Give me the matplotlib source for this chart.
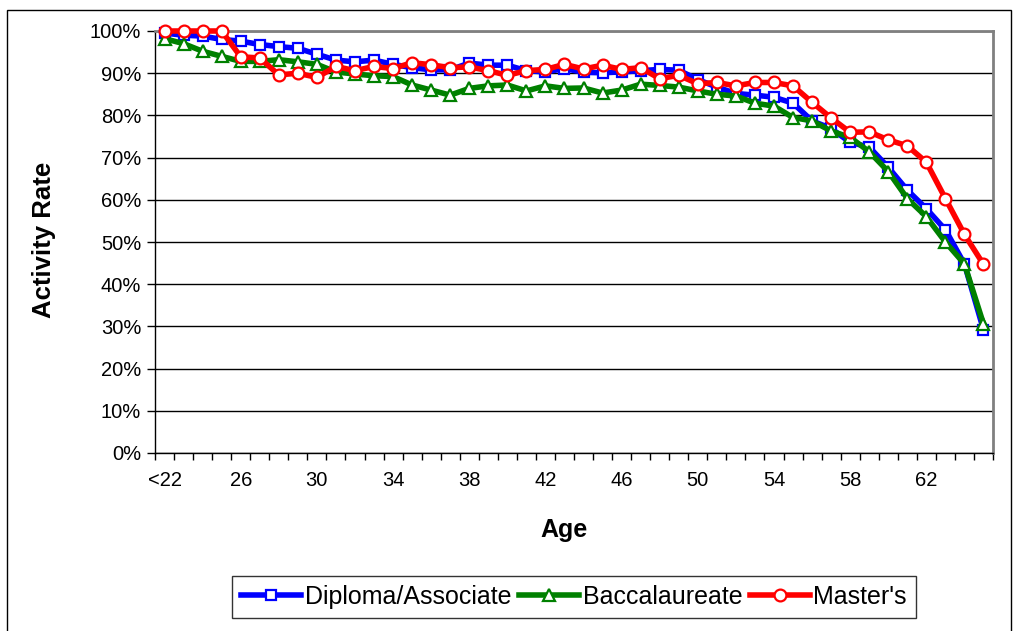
import numpy as np
import matplotlib
matplotlib.use("Agg")
import matplotlib.pyplot as plt
from matplotlib.patches import Rectangle
from matplotlib.ticker import FixedLocator, PercentFormatter

plt.rcParams['font.family'] = ['Liberation Sans', 'DejaVu Sans']

ages = ["<22"] + [str(a) for a in range(23, 66)]
tick_labels = ["<22", "26", "30", "34", "38", "42", "46", "50", "54", "58", "62"]

diploma = [99.5, 99.0, 98.8, 98.0, 97.6, 96.8, 96.3, 95.9, 94.5, 93.1,
           92.7, 93.1, 92.1, 91.3, 90.8, 90.8, 92.4, 91.9, 91.9, 90.6,
           90.3, 91.1, 90.2, 90.1, 90.3, 90.6, 90.9, 90.7, 88.5, 86.7,
           85.2, 84.8, 84.3, 82.9, 78.7, 76.9, 73.6, 72.5, 67.7, 62.3,
           57.9, 52.9, 44.8, 29.2]
bacc = [98.2, 97.0, 95.2, 94.0, 92.8, 92.8, 93.2, 92.7, 92.1, 90.3,
        89.8, 89.4, 89.2, 87.2, 86.0, 84.8, 86.4, 87.0, 87.2, 85.8,
        87.0, 86.4, 86.5, 85.3, 86.0, 87.4, 87.1, 86.7, 85.8, 85.0,
        84.6, 82.9, 82.2, 79.5, 78.7, 76.3, 74.8, 71.4, 66.7, 60.3,
        56.0, 50.0, 44.8, 30.6]
masters = [100.0, 100.0, 100.0, 100.0, 93.9, 93.6, 89.6, 90.0, 89.0, 91.6,
           90.6, 91.6, 91.1, 92.5, 92.0, 91.3, 91.5, 90.6, 89.5, 90.6,
           90.9, 92.1, 91.0, 91.9, 90.9, 91.3, 88.7, 89.5, 87.5, 87.8,
           87.0, 87.8, 87.8, 87.0, 83.1, 79.4, 76.0, 76.1, 74.2, 72.8,
           68.9, 60.3, 51.8, 44.7]

W, H = 1016, 631
fig = plt.figure(figsize=(W / 100, H / 100), dpi=100)
fig.patches.append(Rectangle((7 / W, -0.1), (1011 - 7) / W, 1.1 - 10 / H,
                             transform=fig.transFigure, fill=False,
                             edgecolor='black', linewidth=1.0))

ax = fig.add_axes([155 / W, 1 - 453 / H, (993 - 155) / W, (453 - 31) / H])
x = np.arange(len(ages))

series = [
    (diploma, 'Diploma/Associate', '#0000FF', 's', 7.5),
    (bacc, 'Baccalaureate', '#008000', '^', 8.5),
    (masters, "Master's", '#FF0000', 'o', 8.5),
]
for vals, name, col, mk, ms in series:
    ax.plot(x, np.array(vals) / 100.0, color=col, linewidth=4.0, marker=mk,
            markersize=ms, markerfacecolor='white', markeredgecolor=col,
            markeredgewidth=1.6, label=name, clip_on=False, zorder=3)

ax.set_xlim(-0.5, len(ages) - 0.5)
ax.set_ylim(0, 1.0)
ax.yaxis.set_major_locator(FixedLocator(np.arange(0, 1.01, 0.1)))
ax.yaxis.set_major_formatter(PercentFormatter(1.0, decimals=0))
ax.grid(axis='y', color='black', linewidth=1.0, zorder=1)
ax.set_axisbelow(True)

pos = [ages.index(t) for t in tick_labels]
ax.set_xticks(pos)
ax.set_xticklabels(tick_labels)
ax.set_xticks(np.arange(-0.5, len(ages), 1.0), minor=True)
ax.tick_params(axis='x', which='major', length=0, pad=13, labelsize=14.5)
ax.tick_params(axis='x', which='minor', length=5, direction='out', width=1)
ax.tick_params(axis='y', which='major', length=6, direction='out', width=1,
               labelsize=14.5, pad=4)

for s in ['left', 'bottom']:
    ax.spines[s].set_color('black')
    ax.spines[s].set_linewidth(1.0)
for s in ['top', 'right']:
    ax.spines[s].set_color('#808080')
    ax.spines[s].set_linewidth(2.0)

fig.text(564 / W, 1 - 530 / H, 'Age', fontsize=18, fontweight='bold',
         ha='center', va='center')
fig.text(44 / W, 1 - 240 / H, 'Activity Rate', fontsize=18.5, fontweight='bold',
         ha='center', va='center', rotation=90)

leg = fig.legend(loc='center', bbox_to_anchor=((233 + 915) / 2 / W, 1 - 597 / H),
                 ncol=3, frameon=True, fancybox=False, fontsize=18,
                 handlelength=2.4, handletextpad=0.15, columnspacing=0.3,
                 borderpad=0.35, edgecolor='black')
leg.get_frame().set_linewidth(1.0)

fig.savefig('out.png', dpi=100)
